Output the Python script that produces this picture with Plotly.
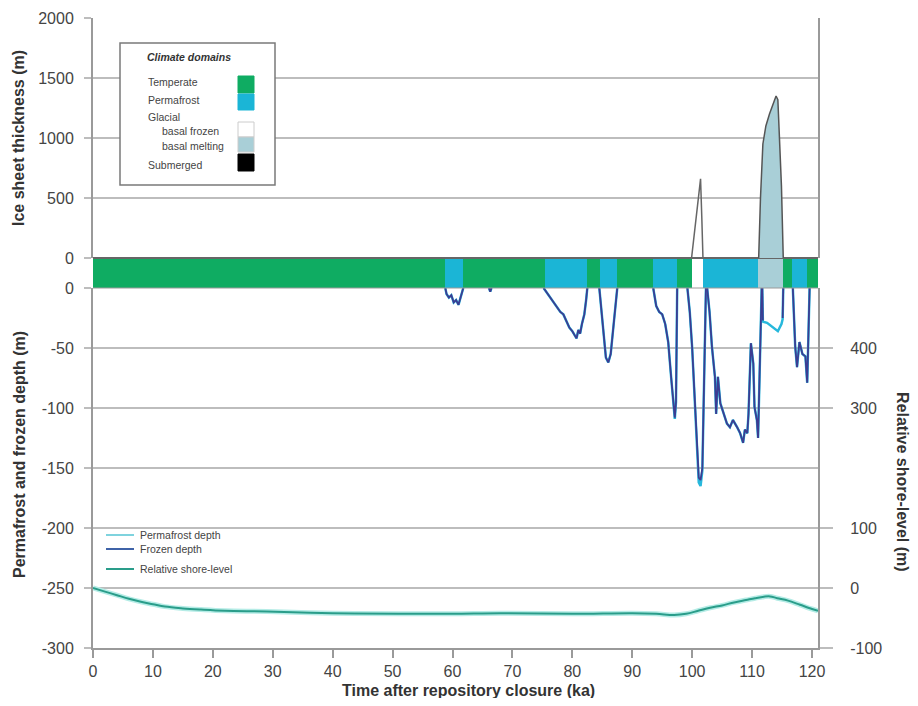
import plotly.graph_objects as go

# ---------------- data ----------------
# Climate domain band (ka)
domain_start = [0.0, 58.8, 61.8, 75.5, 82.5, 84.6, 87.5, 93.5, 97.5, 100.0, 101.8, 111.0, 115.2, 116.7, 119.2]
domain_end   = [58.8, 61.8, 75.5, 82.5, 84.6, 87.5, 93.5, 97.5, 100.0, 101.8, 111.0, 115.2, 116.7, 119.2, 121.0]
domain_type  = ["Temperate", "Permafrost", "Temperate", "Permafrost", "Temperate", "Permafrost",
                "Temperate", "Permafrost", "Temperate", "Basal frozen", "Permafrost", "Basal melting",
                "Temperate", "Permafrost", "Temperate"]

# Ice sheet thickness (m)
ice1_time = [99.9, 100.5, 101.0, 101.4, 101.6, 101.8]
ice1_thick = [0, 250, 500, 660, 350, 0]
ice2_time = [111.1, 111.4, 111.8, 112.3, 112.9, 113.5, 114.0, 114.3, 114.6, 114.9, 115.2]
ice2_thick = [0, 500, 950, 1100, 1200, 1290, 1350, 1320, 1000, 600, 0]

# Permafrost and frozen depth (m); None separates segments
depth_time = [
    58.8, 59.0, 59.4, 59.8, 60.2, 60.6, 61.0, 61.4, 61.8, None,
    66.1, 66.3, 66.5, None,
    75.2, 75.6, 76.2, 76.8, 77.4, 78.0, 78.5, 79.0, 79.5, 80.0, 80.4, 80.7, 81.0, 81.3, 81.6, 82.0, 82.3, 82.5, None,
    84.5, 84.8, 85.2, 85.6, 86.0, 86.4, 86.9, 87.3, 87.5, None,
    93.5, 93.7, 94.0, 94.5, 95.0, 95.5, 96.0, 96.5, 96.9, 97.1, 97.3, 97.4, 97.5, None,
    99.2, 99.6, 100.0, 100.3, 100.6, 100.9, 101.1, 101.4, 101.7, 101.9, 102.1, 102.3, None,
    102.5, 102.9, 103.3, 103.8, 104.0, 104.3, 104.7, 105.2, 105.8, 106.3, 106.8, 107.5, 108.0, 108.5,
    108.8, 109.2, 109.4, 109.8, 110.2, 110.4, 110.8, 111.0, 111.3, 111.6, None,
    111.7, 111.8, 112.5, 113.5, 114.3, 114.9, 115.1, 115.2, None,
    116.8, 117.2, 117.5, 117.9, 118.4, 118.9, 119.2, 119.4, 119.6,
]
frozen_depth = [
    0, -5, -8, -6, -12, -10, -14, -6, 0, None,
    0, -3, 0, None,
    0, -3, -7, -12, -16, -20, -22, -28, -33, -36, -40, -42, -35, -38, -30, -22, -10, 0, None,
    0, -15, -40, -58, -62, -55, -30, -10, 0, None,
    0, -8, -15, -20, -22, -30, -45, -75, -100, -108, -95, -40, 0, None,
    0, -20, -50, -80, -115, -148, -158, -160, -150, -100, -40, 0, None,
    0, -20, -49, -74, -105, -74, -96, -104, -113, -116, -110, -116, -121, -129,
    -118, -121, -105, -46, -63, -99, -110, -125, -60, 0, None,
    0, -27, None, None, None, None, -25, 0, None,
    0, -49, -66, -45, -55, -57, -79, -40, 0,
]
permafrost_depth = [
    0, -5, -8, -6, -12, -10, -14, -6, 0, None,
    0, -3, 0, None,
    0, -3, -7, -12, -16, -20, -22, -28, -33, -36, -40, -42, -35, -38, -30, -22, -10, 0, None,
    0, -15, -40, -58, -62, -55, -30, -10, 0, None,
    0, -8, -15, -20, -22, -30, -45, -75, -100, -109, -95, -40, 0, None,
    0, -20, -50, -80, -115, -150, -162, -165, -152, -100, -40, 0, None,
    0, -20, -49, -74, -105, -74, -96, -104, -113, -116, -110, -116, -121, -129,
    -118, -121, -105, -46, -63, -99, -110, -125, -60, 0, None,
    0, -28, -29, -33, -36, -30, -26, 0, None,
    0, -49, -66, -45, -55, -57, -79, -40, 0,
]

# Relative shore-level (m), right axis
shore_time = [0, 2, 4, 6, 8, 10, 12, 15, 18, 22, 29, 40, 51, 60, 68, 80, 90, 94, 97, 99,
              101, 103, 105, 107, 109, 110.5, 112, 113, 114.2, 116, 118, 120, 121]
shore_level = [0, -6, -12, -18, -23, -27, -31, -34, -36, -38, -39, -42, -43, -43, -42, -43, -42, -43, -45, -43,
               -38, -33, -29, -24, -20, -17, -14.5, -14, -17, -21, -28, -35, -38]

x_ticks = [0, 10, 20, 30, 40, 50, 60, 70, 80, 90, 100, 110, 120]
ice_ticks = [0, 500, 1000, 1500, 2000]
depth_ticks = [0, -50, -100, -150, -200, -250, -300]
depth_labels = ["0", "-50", "-100", "-150", "-200", "-250", "-300"]
shore_ticks = [-100, 0, 100, 300, 400]
shore_labels = ["-100", "0", "100", "300", "400"]

# ---------------- styling ----------------
PAGE_OFF = 8              # default body margin of the html page
W, H = 918 - 2 * PAGE_OFF, 706 - 2 * PAGE_OFF
FONT = "Liberation Sans"
TXT = "#444444"
GRID = "#bdbdbd"
domain_colors = {
    "Temperate": "#0fac62",
    "Permafrost": "#1bb5d6",
    "Basal frozen": "#ffffff",
    "Basal melting": "#a9cfd7",
    "Submerged": "#000000",
}

def px(x):
    return (x - PAGE_OFF) / W

def py(y):
    return 1 - (y - PAGE_OFF) / H

XD = [px(93), px(818)]
TOP = [py(258), py(18)]
BAND = [py(288), py(258)]
BOT = [py(648), py(288)]

fig = go.Figure()

# climate domain band
fig.add_trace(go.Bar(
    x=[(s + e) / 2 for s, e in zip(domain_start, domain_end)],
    y=[1] * len(domain_start),
    width=[e - s for s, e in zip(domain_start, domain_end)],
    marker=dict(color=[domain_colors[t] for t in domain_type], line=dict(width=0)),
    xaxis="x2", yaxis="y2", showlegend=False, hoverinfo="skip",
))

# ice sheet thickness
fig.add_trace(go.Scatter(x=ice1_time, y=ice1_thick, mode="lines",
                         line=dict(color="#666666", width=1.5),
                         xaxis="x3", yaxis="y", showlegend=False))
fig.add_trace(go.Scatter(x=ice2_time, y=ice2_thick, mode="lines", fill="toself",
                         fillcolor="#a9cfd7", line=dict(color="#555555", width=1.5),
                         xaxis="x3", yaxis="y", showlegend=False))

# permafrost and frozen depth
fig.add_trace(go.Scatter(x=depth_time, y=permafrost_depth, mode="lines",
                         line=dict(color="#27b8dc", width=2.5), connectgaps=False,
                         xaxis="x", yaxis="y3", showlegend=False))
fig.add_trace(go.Scatter(x=depth_time, y=frozen_depth, mode="lines",
                         line=dict(color="#3c3c92", width=1.8), connectgaps=False,
                         xaxis="x", yaxis="y3", showlegend=False))

# relative shore-level (halo + line)
fig.add_trace(go.Scatter(x=shore_time, y=shore_level, mode="lines",
                         line=dict(color="#b5ece6", width=5, shape="spline"),
                         xaxis="x", yaxis="y4", showlegend=False))
fig.add_trace(go.Scatter(x=shore_time, y=shore_level, mode="lines",
                         line=dict(color="#2a9d8a", width=2, shape="spline"),
                         xaxis="x", yaxis="y4", showlegend=False))

tickfont = dict(family=FONT, size=16, color=TXT)

fig.update_layout(
    width=W, height=H,
    margin=dict(l=0, r=0, t=0, b=0, autoexpand=False),
    paper_bgcolor="white", plot_bgcolor="rgba(0,0,0,0)",
    bargap=0,
    xaxis=dict(domain=XD, range=[0, 121], anchor="y3", tickvals=x_ticks, automargin=False,
               showline=True, linecolor="#9a9a9a", linewidth=2,
               ticks="outside", ticklen=8, tickcolor="#9a9a9a", tickwidth=1.5,
               showgrid=False, zeroline=False, tickfont=tickfont,
               ticklabelstandoff=0),
    xaxis2=dict(domain=XD, range=[0, 121], anchor="y2", matches="x", visible=False, automargin=False),
    xaxis3=dict(domain=XD, range=[0, 121], anchor="y", matches="x", visible=False, automargin=False),
    yaxis=dict(domain=TOP, range=[0, 2000], anchor="x3", tickvals=ice_ticks, automargin=False,
               showgrid=True, gridcolor=GRID, gridwidth=2,
               showline=True, linecolor="#9a9a9a", linewidth=2, mirror=True,
               ticks="outside", ticklen=7, tickcolor=GRID, tickwidth=2,
               zeroline=True, zerolinecolor="#666666", zerolinewidth=2,
               tickfont=tickfont, ticklabelstandoff=7),
    yaxis2=dict(domain=BAND, range=[0, 1], anchor="x2", visible=False, fixedrange=True, automargin=False),
    yaxis3=dict(domain=BOT, range=[-300, 0], anchor="x", tickvals=depth_ticks, ticktext=depth_labels,
                automargin=False,
                showgrid=True, gridcolor=GRID, gridwidth=2,
                showline=True, linecolor="#9a9a9a", linewidth=2,
                ticks="outside", ticklen=7, tickcolor=GRID, tickwidth=2,
                zeroline=False, tickfont=tickfont, ticklabelstandoff=7),
    yaxis4=dict(overlaying="y3", side="right", anchor="x", range=[-100, 500], automargin=False,
                tickvals=shore_ticks, ticktext=shore_labels, showgrid=False,
                showline=True, linecolor="#9a9a9a", linewidth=2,
                ticks="outside", ticklen=13, tickcolor=GRID, tickwidth=2,
                zeroline=False, tickfont=tickfont, ticklabelstandoff=14),
)

# darker line at shore-level 0
fig.add_shape(type="line", xref="paper", yref="y4", x0=XD[0], x1=px(831), y0=0, y1=0,
              line=dict(color="#8a8a8a", width=2), layer="below")
# band outline line
fig.add_shape(type="line", xref="paper", yref="paper", x0=XD[0], x1=XD[1], y0=BAND[0], y1=BAND[0],
              line=dict(color="#9a9a9a", width=1))

ann = []
title_font = dict(family=FONT, size=16, color="#333333")
def title(text, x, y, angle=0, size=16):
    return dict(text=text, x=px(x), y=py(y), xref="paper", yref="paper", textangle=angle,
                xanchor="center", yanchor="middle", showarrow=False,
                font=dict(family=FONT, size=size, color="#333333"))

ann.append(title("<b>Ice sheet thickness (m)</b>", 19, 138, -90))
ann.append(title("<b>Permafrost and frozen depth (m)</b>", 19, 455, -90))
ann.append(title("<b>Relative shore-level (m)</b>", 903, 482, 90))
ann.append(title("<b>Time after repository closure (ka)</b>", 468, 690, 0))

# Climate domains legend box
fig.add_shape(type="rect", xref="paper", yref="paper", x0=px(120), x1=px(275), y0=py(185), y1=py(43),
              line=dict(color="#7a7a7a", width=1.5), fillcolor="white")
lfont = dict(family=FONT, size=10.5, color="#444444")
ann.append(dict(text="<b><i>Climate domains</i></b>", x=px(145), y=py(57), xref="paper", yref="paper",
                xanchor="left", yanchor="middle", showarrow=False,
                font=dict(family=FONT, size=10.5, color="#333333")))
legend_rows = [("Temperate", 146, 82), ("Permafrost", 146, 100), ("Glacial", 146, 117),
               ("basal frozen", 160, 131), ("basal melting", 160, 146), ("Submerged", 146, 165)]
for txt, lx, ly in legend_rows:
    ann.append(dict(text=txt, x=px(lx), y=py(ly), xref="paper", yref="paper", xanchor="left",
                    yanchor="middle", showarrow=False, font=lfont))
swatches = [("Temperate", 76, 93), ("Permafrost", 94, 110), ("Basal frozen", 122, 137),
            ("Basal melting", 137, 152), ("Submerged", 154, 171)]
for key, y0, y1 in swatches:
    fig.add_shape(type="rect", xref="paper", yref="paper", x0=px(238), x1=px(254), y0=py(y1), y1=py(y0),
                  line=dict(color="#cccccc" if key.startswith("Basal") else domain_colors[key], width=1),
                  fillcolor=domain_colors[key])

# lower line legend
line_legend = [("Permafrost depth", "#7fd3de", 535), ("Frozen depth", "#3f63a8", 549),
               ("Relative shore-level", "#2a9d8a", 569)]
for txt, col, ly in line_legend:
    fig.add_shape(type="line", xref="paper", yref="paper", x0=px(106), x1=px(134), y0=py(ly), y1=py(ly),
                  line=dict(color=col, width=2))
    ann.append(dict(text=txt, x=px(138), y=py(ly), xref="paper", yref="paper", xanchor="left",
                    yanchor="middle", showarrow=False, font=lfont))

fig.update_layout(annotations=ann)
fig.write_html("out.html")
